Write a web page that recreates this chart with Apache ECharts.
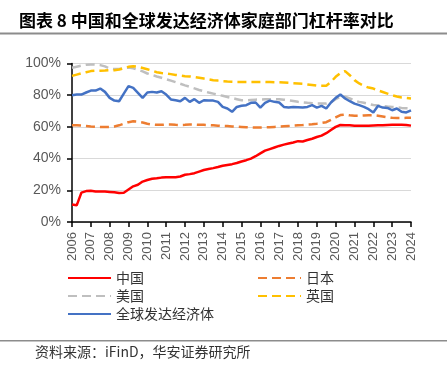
<!DOCTYPE html>
<html>
<head>
<meta charset="utf-8">
<script src="https://cdn.jsdelivr.net/npm/echarts@6/dist/echarts.min.js"></script>
<style>
html,body{margin:0;padding:0;background:#fff;}
#chart{width:447px;height:373px;}
</style>
</head>
<body>
<div id="chart"></div>
<script>
// Quarterly data 2006Q1 .. 2024Q1
const years = [2006,2007,2008,2009,2010,2011,2012,2013,2014,2015,2016,2017,2018,2019,2020,2021,2022,2023,2024];
const categories = [];
years.forEach(y => { for (let q = 1; q <= 4; q++) { if (y === 2024 && q > 1) break; categories.push(y + 'Q' + q); } });

const china = [
  11, 10.5, 18.5, 19.5,
  19.7, 19.3, 19.2, 19.2,
  19, 18.8, 18.3, 18.5,
  20.5, 22.5, 23.5, 25.5,
  26.5, 27.3, 27.6, 28,
  28.2, 28.2, 28.3, 28.7,
  29.8, 30.2, 30.8, 31.8,
  32.8, 33.4, 34, 34.7,
  35.5, 36, 36.5, 37.2,
  38.2, 39, 40, 41.5,
  43.3, 45, 46, 47,
  48, 48.8, 49.5, 50.2,
  51, 50.8, 51.7, 52.5,
  53.6, 54.5, 56, 58,
  60, 61.2, 61, 61,
  60.8, 60.8, 60.7, 60.8,
  60.9, 61, 61, 61.2,
  61.3, 61.4, 61.3, 61.2,
  60.8
];
const japan = [
  61, 61, 60.8, 60.5,
  60.2, 60, 60, 60,
  60, 60.3, 61, 62,
  63, 63.5, 63.3, 62.8,
  62, 61.5, 61.3, 61.3,
  61.5, 61.5, 61.3, 61.2,
  61.3, 61.5, 61.5, 61.3,
  61.3, 61.2, 61, 60.8,
  60.6, 60.5, 60.3, 60.2,
  60, 59.8, 59.7, 59.6,
  59.6, 59.7, 59.8, 60,
  60.2, 60.4, 60.6, 60.8,
  61, 61.2, 61.5, 61.7,
  62, 62.5, 63, 64.5,
  66, 67.5, 67.8, 67.3,
  67, 67, 67.2, 67.3,
  67.4, 67, 66.5, 66,
  65.7, 65.6, 65.6, 65.7,
  65.7
];
const usa = [
  97.3, 98, 98.7, 99.2,
  99.4, 99.3, 99, 98.2,
  96.8, 96.5, 96.5, 97,
  97.4, 97, 96, 95,
  93.7, 92.8, 91.8, 91,
  90.1, 89.2, 88.2, 87.2,
  86.2, 85.3, 84.3, 83.3,
  82.5, 81.7, 81, 80.3,
  79.6, 78.9, 78.2, 77.5,
  76.8, 76.8, 77, 77.2,
  77.3, 77.4, 77.5, 77.5,
  77.5, 77.2, 76.8, 76.3,
  75.8, 75.5, 75.2, 75,
  74.7, 74.7, 74.7, 75.5,
  77.5, 79, 79, 78,
  76.5, 75.8, 75.2, 74.5,
  73.8, 73.5, 73.2, 72.8,
  72.6, 72.3, 72, 71.8,
  71.6
];
const uk = [
  92.2, 93, 93.8, 94.5,
  95.2, 95.4, 95.5, 95.6,
  95.8, 95.8, 96.2, 97,
  97.9, 98.3, 98, 97.2,
  96.4, 95.5, 94.5, 94,
  93.7, 93.3, 92.8, 92.4,
  92, 91.8, 91.5, 91,
  90.5, 90, 89.5, 89.2,
  88.8, 88.6, 88.5, 88.4,
  88.4, 88.4, 88.4, 88.4,
  88.4, 88.4, 88.3, 88.2,
  88.2, 88, 87.8, 87.6,
  87.4, 87.2, 86.8, 86.4,
  86, 86, 86, 88.4,
  91.6, 94, 95.2, 92.6,
  89.5, 87.4, 85.9, 84.8,
  84.2, 83, 82, 81,
  80, 79.2, 78.5, 78.2,
  77.9
];
const advanced = [
  80, 80.4, 80.4, 81.7,
  82.9, 82.9, 84.2, 82.1,
  78.3, 76.6, 76.2, 81,
  85.7, 84.6, 81.5, 78.3,
  81.7, 82.1, 81.7, 82.5,
  80.4, 77.3, 76.8, 76.2,
  78.3, 75.8, 77.5, 75.2,
  76.8, 76.6, 76.6, 75.8,
  72.6, 71.6, 69.5, 72.6,
  73.3, 73.7, 75.2, 75.4,
  72.2, 75.2, 76.6, 75.8,
  75.4, 72.6, 72.2, 72.6,
  72.4, 72.2, 72.6, 73.7,
  72.2, 73.3, 71.6, 75.4,
  78.3, 80.4, 77.9, 76.2,
  74.7, 73.7, 72.6, 71.2,
  69.1, 73.3, 72.2, 72,
  70.5, 71.6, 69.5, 69.1,
  70.5
];
const yTicks = [0, 20, 40, 60, 80, 100];
const seriesNames = ['中国', '日本', '美国', '英国', '全球发达经济体'];

const chart = echarts.init(document.getElementById('chart'), null, {renderer: 'canvas'});
const dash = [9, 5];
function mk(name, data, color, dashed) {
  return {
    name, type: 'line', data, symbol: 'none', smooth: false,
    lineStyle: {color, width: 2.5, type: dashed ? dash : 'solid'},
    itemStyle: {color}
  };
}
const tickFont = {fontFamily: 'Liberation Sans, Arial, sans-serif', fontSize: 13, color: '#595959'};
const legendCommon = {
  orient: 'vertical', top: 271, padding: 0, itemWidth: 43, itemHeight: 14, itemGap: 4,
  itemStyle: {opacity: 0, color: 'rgba(0,0,0,0)', borderWidth: 0},
  textStyle: {fontFamily: 'Noto Sans CJK SC', fontSize: 14, color: '#333'}
};
chart.setOption({
  animation: false,
  backgroundColor: '#fff',
  grid: {left: 72, right: 36, top: 63.5, bottom: 151, containLabel: false},
  xAxis: {
    type: 'category', data: categories, boundaryGap: false,
    axisLine: {lineStyle: {color: '#000', width: 1.5}},
    axisTick: {show: true, interval: 3, length: 5, lineStyle: {color: '#000', width: 1.5}},
    axisLabel: Object.assign({interval: 3, rotate: 90, margin: 10, formatter: v => v.slice(0, 4)}, tickFont),
    splitLine: {show: false}
  },
  yAxis: {
    type: 'value', min: yTicks[0], max: yTicks[yTicks.length - 1], interval: 20,
    axisLine: {show: true, lineStyle: {color: '#000', width: 1.5}},
    axisTick: {show: true, length: 5, lineStyle: {color: '#000', width: 1.5}},
    axisLabel: Object.assign({margin: 11, formatter: '{value}%'}, tickFont, {fontSize: 14}),
    splitLine: {show: true, lineStyle: {color: '#D9D9D9', width: 1}}
  },
  legend: [
    Object.assign({data: ['中国', '美国', '全球发达经济体'], left: 67}, legendCommon),
    Object.assign({data: ['日本', '英国'], left: 257}, legendCommon)
  ],
  series: [
    mk(seriesNames[0], china, '#FF0000', false),
    mk(seriesNames[1], japan, '#ED7D31', true),
    mk(seriesNames[2], usa, '#BFBFBF', true),
    mk(seriesNames[3], uk, '#FFC000', true),
    mk(seriesNames[4], advanced, '#4472C4', false)
  ],
  graphic: [
    {type: 'text', left: 19, top: 12, style: {text: '图表 8 中国和全球发达经济体家庭部门杠杆率对比', font: 'bold 17px "Noto Sans CJK SC"', fill: '#000'}},
    {type: 'rect', shape: {x: 0, y: 32.5, width: 447, height: 2}, style: {fill: '#8C8C8C'}},
    {type: 'rect', shape: {x: 0, y: 340, width: 447, height: 1.5}, style: {fill: '#8C8C8C'}},
    {type: 'text', left: 35, top: 345, style: {text: '资料来源：iFinD，华安证券研究所', font: '14px "Noto Sans CJK SC"', fill: '#333'}}
  ]
});
</script>
</body>
</html>
